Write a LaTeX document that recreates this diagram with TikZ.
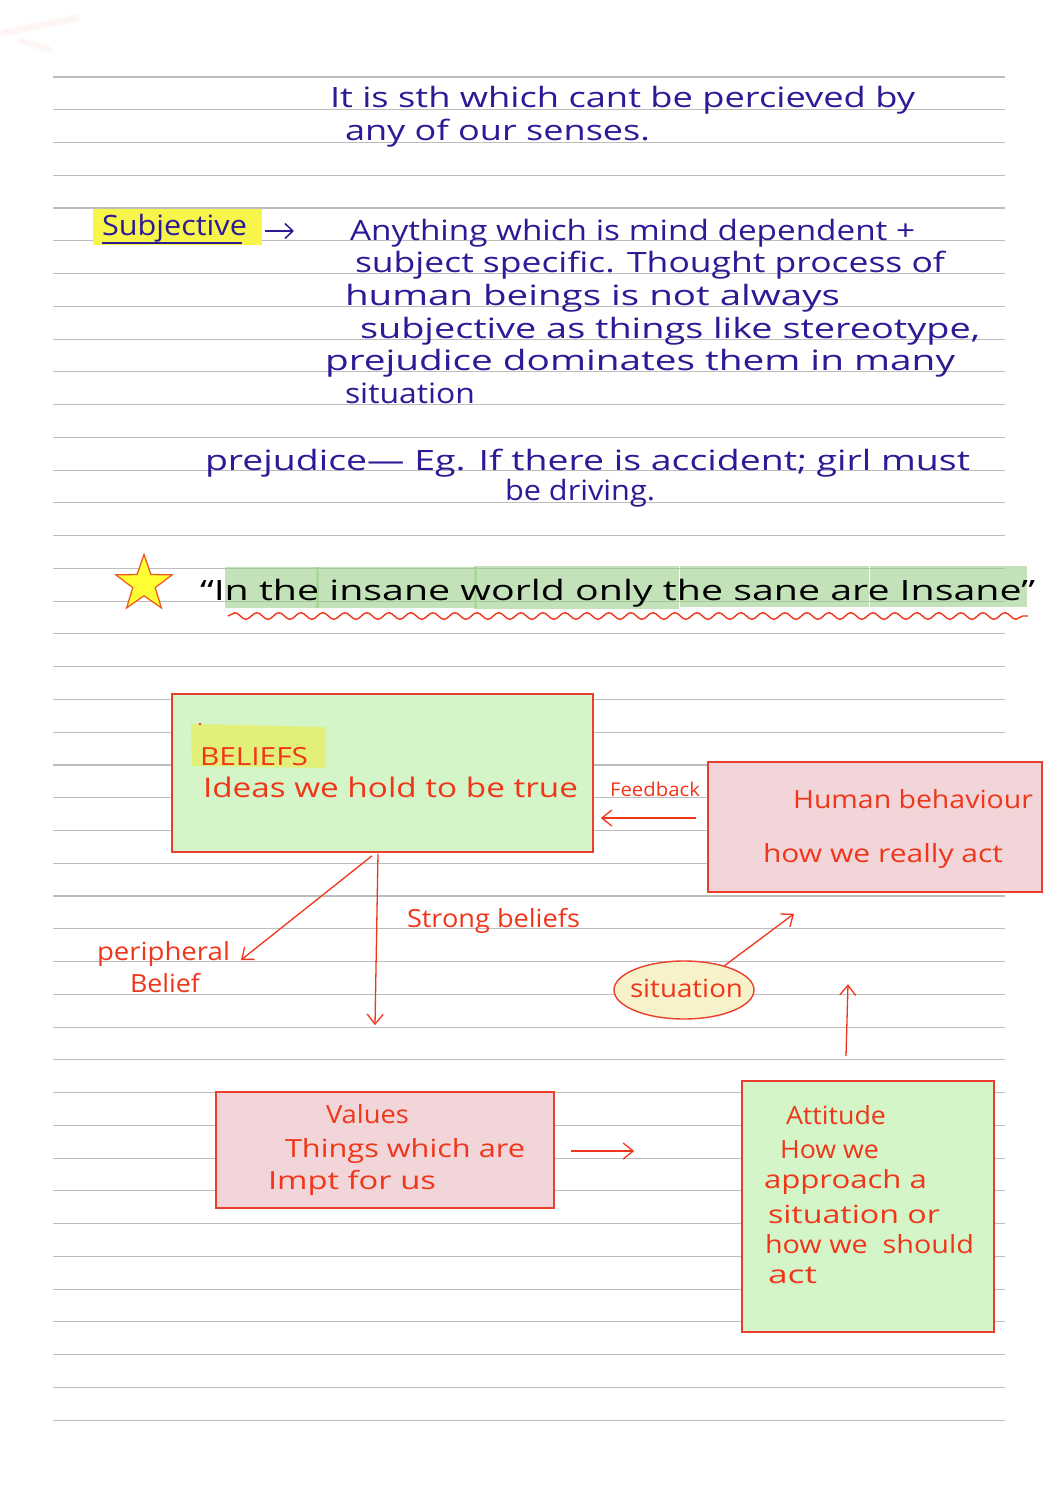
\documentclass[tikz,border=0pt]{standalone}
\usepackage{fontspec}
\setmainfont{Open Sans}
\usetikzlibrary{arrows.meta,shapes.geometric,decorations.pathmorphing,calc}
\definecolor{inkblue}{HTML}{2C1A96}
\definecolor{inkred}{HTML}{F0361A}
\definecolor{boxred}{HTML}{E8402D}
\definecolor{boxgreen}{HTML}{D3F5C8}
\definecolor{boxpink}{HTML}{F1D5D8}
\definecolor{ellfill}{HTML}{F7F2C9}
\definecolor{hlyellow}{HTML}{F8F54A}
\definecolor{hlbelief}{HTML}{E2EF78}
\definecolor{qgreen}{HTML}{9CCF8C}
\definecolor{rulegray}{HTML}{BDBDBD}
\definecolor{starfill}{HTML}{FFFF33}
\definecolor{starline}{HTML}{EE5A24}
\definecolor{faintpink}{HTML}{FEF5F5}
\newsavebox\hwbox
\newlength\hwlen
\newcommand\hwfit[2]{\sbox\hwbox{#2}\setlength\hwlen{\wd\hwbox}\pgfmathsetmacro\hwsc{(#1)/\hwlen}\scalebox{\hwsc}[1]{\usebox\hwbox}}
\begin{document}
\begin{tikzpicture}[x=1pt,y=-1pt,
  rule/.style={draw=rulegray, line width=1.1pt},
  txt/.style={anchor=base west, inner sep=0pt, outer sep=0pt},
  bluetxt/.style={txt, text=inkblue, font=\fontsize{28}{32}\selectfont},
  redtxt/.style={txt, text=inkred, font=\fontsize{25}{29}\selectfont},
  blacktxt/.style={txt, text=black, font=\fontsize{28}{32}\selectfont},
  greenbox/.style={draw=boxred, fill=boxgreen, line width=1.6pt, inner sep=0pt, rectangle},
  pinkbox/.style={draw=boxred, fill=boxpink, line width=1.6pt, inner sep=0pt, rectangle},
  arr/.style={draw=inkred, line width=1.3pt, -{Straight Barb[length=10pt,width=16pt]}},
  bluearr/.style={draw=inkblue, line width=1.5pt, -{Straight Barb[length=8pt,width=15pt]}},
  qhl/.style={fill=qgreen, fill opacity=0.6, draw=none}
]
\useasboundingbox (0,0) rectangle (1058,1497);
\fill[white] (0,0) rectangle (1058,1497);
% faint mark
\draw[faintpink, line width=7pt, line cap=round] (4,33) -- (76,18);
\draw[faintpink, line width=6pt, line cap=round] (20,40) -- (50,50);
% ruled lines
\foreach \k in {0,...,41} \draw[rule] (53,{77+32.76*\k}) -- (1005,{77+32.76*\k});

% ---------- top blue text ----------
\node[bluetxt] (t1) at (330,107) {\hwfit{585}{It is sth which cant be percieved by}};
\node[bluetxt] (t2) at (345,140) {\hwfit{305}{any of our senses.}};

\node[fill=hlyellow, draw=none, minimum width=169, minimum height=36, inner sep=0pt] (subjhl) at (177.5,227) {};
\node[bluetxt] (subj) at (102,235) {\hwfit{145}{Subjective}};
\draw[inkblue, line width=1.5pt] (102,243) -- (242,243);
\coordinate (subjend) at (294,231);
\draw[bluearr] ($(subjhl.east)+(3,4)$) -- (subjend);

\node[bluetxt] (p1) at (350,240) {\hwfit{565}{Anything which is mind dependent +}};
\node[bluetxt] (p2) at (355,272) {\hwfit{590}{subject specific. Thought process of}};
\node[bluetxt] (p3) at (345,305) {\hwfit{495}{human beings is not always}};
\node[bluetxt] (p4) at (360,338) {\hwfit{620}{subjective as things like stereotype,}};
\node[bluetxt] (p5) at (325,370) {\hwfit{630}{prejudice dominates them in many}};
\node[bluetxt] (p6) at (345,403) {\hwfit{130}{situation}};

\node[bluetxt] (pj1) at (205,470) {\hwfit{765}{prejudice{\textemdash} Eg. If there is accident; girl must}};
\node[bluetxt] (pj2) at (505,500) {\hwfit{150}{be driving.}};

% ---------- quote ----------
\node[star, star points=5, star point ratio=2.5, minimum size=59pt, inner sep=0pt,
      fill=starfill, draw=starline, line width=1.3pt] (starnode) at (144,584) {};
\fill[qhl] (225,567) rectangle (319,608);
\fill[qhl] (316,567) rectangle (477,608);
\fill[qhl] (474,566) rectangle (679,609);
\fill[qhl] (680,566) rectangle (869,607);
\fill[qhl] (870,566) rectangle (1027,607);
\node[blacktxt] (quote) at (200,600) {\hwfit{835}{“In the insane world only the sane are Insane”}};
\draw[inkred, line width=1.4pt, decorate, decoration={snake, amplitude=3.3pt, segment length=22pt}]
  ($(quote.base west)+(28,16)$) -- ($(quote.base east)+(-7,16)$);

% ---------- diagram boxes ----------
\node[greenbox, minimum width=421, minimum height=158] (beliefs) at (382.5,773) {};
\node[pinkbox, minimum width=334, minimum height=130] (behaviour) at (875,827) {};
\node[pinkbox, minimum width=338, minimum height=116] (values) at (385,1150) {};
\node[greenbox, minimum width=252, minimum height=251] (attitude) at (868,1206.5) {};
\node[ellipse, draw=boxred, fill=ellfill, line width=1.4pt, minimum width=140, minimum height=58, inner sep=0pt] (sit) at (684,990) {};

% beliefs text
\fill[hlbelief] (191,724) -- (326,727) -- (325,768) -- (192,766) -- cycle;
\fill[inkred] (200,724) circle (1.3pt);
\node[redtxt] (bel) at (200,765) {\hwfit{108}{BELIEFS}};
\node[redtxt, font=\fontsize{27}{31}\selectfont] (ideas) at (203,797) {\hwfit{375}{Ideas we hold to be true}};

% behaviour text
\node[redtxt] (hb) at (793,808) {\hwfit{240}{Human behaviour}};
\node[redtxt] (howact) at (763,862) {\hwfit{240}{how we really act}};

% feedback
\node[redtxt, font=\fontsize{19}{22}\selectfont] (fb) at (610,796) {\hwfit{90}{Feedback}};
\draw[arr] ($(behaviour.west)+(-11,-9)$) -- ($(beliefs.east)+(7,45)$);

% strong / peripheral
\node[redtxt] (strong) at (407,927) {\hwfit{173}{Strong beliefs}};
\node[redtxt] (peri) at (97,960) {\hwfit{133}{peripheral}};
\node[redtxt] (belief) at (130,992) {\hwfit{70}{Belief}};
\coordinate (periend) at (241,960);
\draw[arr] ($(beliefs.south)+(-10.5,3)$) -- (periend);
\draw[arr] ($(beliefs.south)+(-4.5,1)$) -- ($(values.north)+(-10,-66)$);

% situation
\node[redtxt] (sittxt) at (630,997) {\hwfit{113}{situation}};
\draw[arr] (sit.31) -- ($(behaviour.south)+(-81,21)$);

% values text
\node[redtxt] (v1) at (326,1123) {\hwfit{83}{Values}};
\node[redtxt] (v2) at (285,1157) {\hwfit{240}{Things which are}};
\node[redtxt] (v3) at (268,1189) {\hwfit{168}{Impt for us}};
\draw[arr] ($(values.east)+(16,1)$) -- ($(attitude.west)+(-107,-55.5)$);

% attitude text
\node[redtxt] (a1) at (786,1124) {\hwfit{100}{Attitude}};
\node[redtxt] (a2) at (780,1158) {\hwfit{99}{How we}};
\node[redtxt] (a3) at (764,1188) {\hwfit{163}{approach a}};
\node[redtxt] (a4) at (768,1223) {\hwfit{172}{situation or}};
\node[redtxt] (a5) at (765,1253) {\hwfit{209}{how we\ \ should}};
\node[redtxt] (a6) at (768,1283) {\hwfit{49}{act}};
\draw[arr] ($(attitude.north)+(-22,-24)$) -- ($(attitude.north)+(-20,-96)$);
\end{tikzpicture}
\end{document}
